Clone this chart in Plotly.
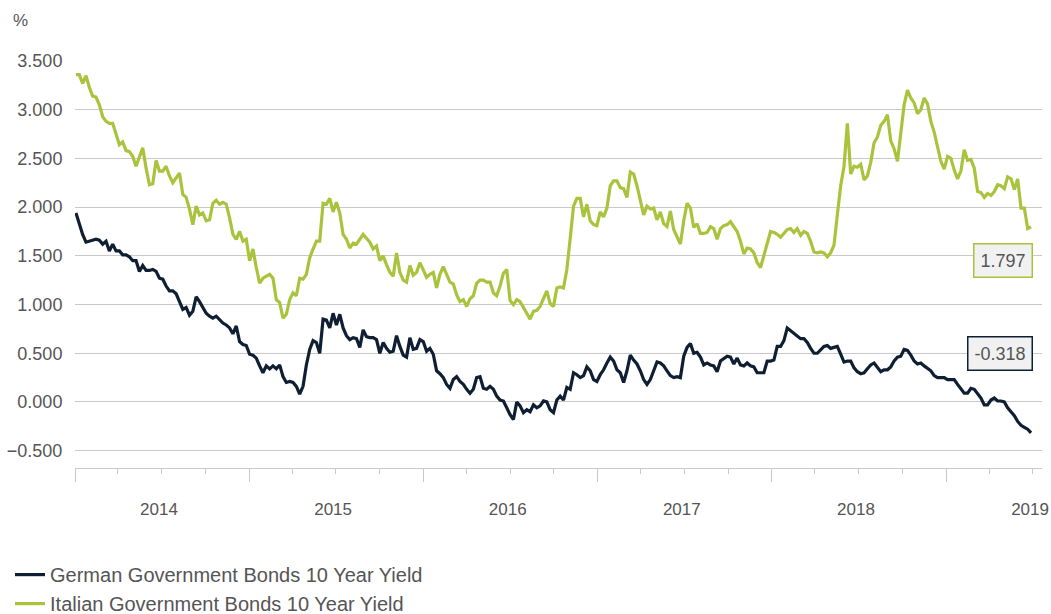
import pandas as pd
import plotly.graph_objects as go

start_date = "2014-01-03"
n_weeks = 287

german = [
    1.94,1.82,1.72,1.64,1.65,1.66,1.67,1.66,1.62,1.65,
    1.55,1.62,1.55,1.55,1.51,1.51,1.49,1.45,1.45,1.34,
    1.40,1.35,1.35,1.36,1.34,1.27,1.26,1.19,1.14,1.14,
    1.11,1.03,0.95,0.97,0.89,0.93,1.08,1.03,0.97,0.91,
    0.88,0.86,0.88,0.84,0.81,0.79,0.76,0.70,0.78,0.62,
    0.59,0.58,0.49,0.48,0.45,0.37,0.30,0.37,0.34,0.37,
    0.34,0.38,0.26,0.20,0.21,0.20,0.16,0.08,0.16,0.38,
    0.54,0.63,0.61,0.50,
    0.85,0.84,0.76,0.91,0.79,0.90,0.76,0.68,0.64,0.66,
    0.65,0.56,0.74,0.67,0.66,0.66,0.64,0.50,0.61,0.55,
    0.51,0.52,0.68,0.57,0.48,0.46,0.66,0.54,0.55,0.64,
    0.62,0.52,0.55,0.49,0.32,0.29,0.25,0.18,0.14,0.23,
    0.26,0.21,0.18,0.13,0.09,0.13,0.25,0.26,0.14,0.13,
    0.16,0.13,0.06,0.02,0.01,-0.06,-0.13,-0.18,0.00,-0.04,
    -0.11,-0.08,-0.10,-0.03,-0.06,-0.04,0.01,0.00,-0.08,-0.11,
    0.02,0.06,
    0.02,0.15,0.13,0.30,0.28,0.25,0.27,0.36,0.32,0.23,
    0.21,0.28,0.33,0.40,0.46,0.42,0.33,0.30,0.20,0.32,
    0.48,0.43,0.39,0.32,0.23,0.18,0.23,0.32,0.41,0.40,
    0.37,0.32,0.27,0.25,0.26,0.25,0.47,0.56,0.60,0.50,
    0.51,0.46,0.38,0.40,0.38,0.37,0.31,0.42,0.45,0.47,
    0.46,0.39,0.45,0.38,0.37,0.40,0.37,0.36,0.30,0.30,
    0.30,0.42,0.42,0.43,0.57,0.57,0.63,0.76,0.73,0.70,
    0.67,0.65,
    0.65,0.61,0.55,0.50,0.50,0.53,0.57,0.58,0.55,0.56,
    0.57,0.49,0.41,0.42,0.42,0.35,0.31,0.29,0.30,0.34,
    0.38,0.40,0.36,0.31,0.33,0.33,0.36,0.42,0.46,0.47,
    0.54,0.53,0.48,0.42,0.39,0.40,0.37,0.34,0.32,0.27,
    0.25,0.25,0.25,0.23,0.23,0.23,0.18,0.13,0.09,0.09,
    0.14,0.13,0.08,0.04,-0.03,-0.03,0.02,0.04,0.01,0.01,
    0.00,-0.06,-0.10,-0.14,-0.20,-0.24,-0.26,-0.28,-0.318,
]

italian = [
    3.36,3.36,3.27,3.35,3.23,3.14,3.13,3.05,2.93,2.88,
    2.86,2.86,2.75,2.64,2.67,2.58,2.57,2.52,2.42,2.52,
    2.61,2.40,2.23,2.24,2.48,2.37,2.37,2.42,2.32,2.25,
    2.30,2.35,2.13,2.10,1.98,1.82,2.01,1.92,1.94,1.86,
    1.87,2.04,2.07,2.03,2.05,2.03,1.89,1.72,1.67,1.75,
    1.65,1.67,1.45,1.57,1.38,1.22,1.27,1.29,1.31,1.27,
    1.05,1.02,0.86,0.90,1.05,1.12,1.09,1.27,1.26,1.31,
    1.48,1.57,1.65,1.65,
    2.04,2.03,2.09,1.95,2.05,1.94,1.72,1.67,1.58,1.63,
    1.62,1.67,1.72,1.68,1.64,1.57,1.60,1.45,1.50,1.41,
    1.33,1.29,1.53,1.33,1.25,1.23,1.40,1.30,1.33,1.43,
    1.35,1.28,1.31,1.33,1.17,1.31,1.39,1.31,1.23,1.21,
    1.10,1.03,1.05,0.98,1.06,1.09,1.22,1.25,1.25,1.23,
    1.23,1.12,1.09,1.19,1.32,1.36,1.04,1.00,1.05,1.03,
    0.97,0.92,0.85,0.93,0.94,0.98,1.07,1.14,1.01,0.98,
    1.17,1.18,
    1.17,1.36,1.68,2.01,2.09,2.09,1.90,2.03,1.86,1.82,
    1.81,1.95,1.90,1.99,2.22,2.27,2.27,2.20,2.19,2.10,
    2.36,2.34,2.22,2.06,1.92,2.01,1.98,1.99,1.87,1.95,
    1.83,1.80,1.96,1.77,1.70,1.62,1.86,2.04,1.99,1.79,
    1.83,1.73,1.73,1.74,1.80,1.78,1.67,1.78,1.81,1.82,
    1.85,1.80,1.75,1.65,1.52,1.58,1.57,1.53,1.43,1.38,
    1.51,1.63,1.75,1.74,1.72,1.69,1.73,1.77,1.78,1.74,
    1.78,1.71,
    1.75,1.73,1.65,1.54,1.53,1.54,1.53,1.49,1.53,1.61,
    1.92,2.22,2.42,2.86,2.34,2.42,2.41,2.44,2.28,2.32,
    2.46,2.66,2.72,2.84,2.88,2.95,2.68,2.60,2.47,2.76,
    3.05,3.20,3.12,3.07,2.96,3.00,3.12,3.06,2.88,2.77,
    2.60,2.47,2.39,2.52,2.50,2.38,2.29,2.37,2.59,2.48,
    2.49,2.40,2.16,2.15,2.10,2.14,2.12,2.16,2.23,2.22,
    2.19,2.31,2.29,2.18,2.29,1.99,1.99,1.78,1.797,
]

years = ["2014", "2015", "2016", "2017", "2018", "2019"]
year_starts = [y + "-01-01" for y in years]
year_mids = [y + "-06-26" for y in years]
series_names = ["German Government Bonds 10 Year Yield", "Italian Government Bonds 10 Year Yield"]

dates = pd.date_range(start_date, periods=n_weeks, freq="7D")

NAVY = "#0e1f33"
GREEN = "#a9c43c"
GRID = "#c9c9c9"
TXT = "#555555"
FONT = "Liberation Sans, Arial, sans-serif"

fig = go.Figure()
fig.add_trace(go.Scatter(x=dates, y=german, mode="lines", name=series_names[0],
                         line=dict(color=NAVY, width=3.2)))
fig.add_trace(go.Scatter(x=dates, y=italian, mode="lines", name=series_names[1],
                         line=dict(color=GREEN, width=3.2)))
# invisible trace to carry the year labels axis
fig.add_trace(go.Scatter(x=[dates[0], dates[-1]], y=[None, None], xaxis="x2",
                         showlegend=False, hoverinfo="skip"))

x_range = ["2014-01-01", "2019-07-21"]

fig.update_layout(
    width=1051, height=614,
    margin=dict(l=75, r=9, t=61, b=146, autoexpand=False),
    paper_bgcolor="white", plot_bgcolor="white",
    font=dict(family=FONT, color=TXT, size=18),
    xaxis=dict(
        type="date", range=x_range,
        tickmode="array", tickvals=year_starts, showticklabels=False,
        ticks="outside", ticklen=13, tickcolor=GRID, tickwidth=1,
        minor=dict(dtick="M3", tick0="2014-01-01", ticks="outside", ticklen=5,
                   tickcolor=GRID, tickwidth=1, showgrid=False),
        showgrid=False, showline=True, linecolor=GRID, linewidth=1,
        zeroline=False,
    ),
    xaxis2=dict(
        type="date", range=x_range, overlaying="x", anchor="y", side="bottom",
        tickmode="array", tickvals=year_mids, ticktext=years,
        ticks="outside", ticklen=26, tickcolor="rgba(0,0,0,0)",
        showgrid=False, showline=False, zeroline=False,
        ticklabeloverflow="allow",
        tickfont=dict(size=17, color=TXT),
    ),
    yaxis=dict(
        range=[-0.678, 3.5], tick0=0, dtick=0.5, tickformat=".3f",
        showgrid=True, gridcolor=GRID, gridwidth=1,
        zeroline=False, showline=False,
        ticks="outside", ticklen=8, tickcolor="rgba(0,0,0,0)",
        tickfont=dict(size=18, color=TXT),
    ),
    legend=dict(
        orientation="v", x=-0.0672, y=-0.214, xanchor="left", yanchor="top",
        font=dict(size=20, color=TXT), bgcolor="rgba(0,0,0,0)",
        tracegroupgap=0, itemwidth=30,
    ),
    annotations=[
        dict(text="%", xref="paper", yref="paper", x=-0.066, y=1.1007,
             xanchor="left", yanchor="middle", showarrow=False,
             font=dict(size=17, color=TXT)),
        dict(text=f"{italian[-1]:.3f}", xref="x", yref="y", x=dates[-1], y=1.457,
             xanchor="right", yanchor="middle", showarrow=False, xshift=2,
             font=dict(size=18, color=TXT), bgcolor="#f1f1f1",
             bordercolor=GREEN, borderwidth=1.5, borderpad=6),
        dict(text=f"{german[-1]:.3f}", xref="x", yref="y", x=dates[-1], y=0.502,
             xanchor="right", yanchor="middle", showarrow=False, xshift=2,
             font=dict(size=18, color=TXT), bgcolor="#f1f1f1",
             bordercolor=NAVY, borderwidth=1.5, borderpad=6),
    ],
)

# remove the default 8px page margin so the figure fills the window exactly
fig.write_html("out.html",
               config={"displayModeBar": False},
               post_script="document.body.style.margin='0px';document.body.style.overflow='hidden';")
